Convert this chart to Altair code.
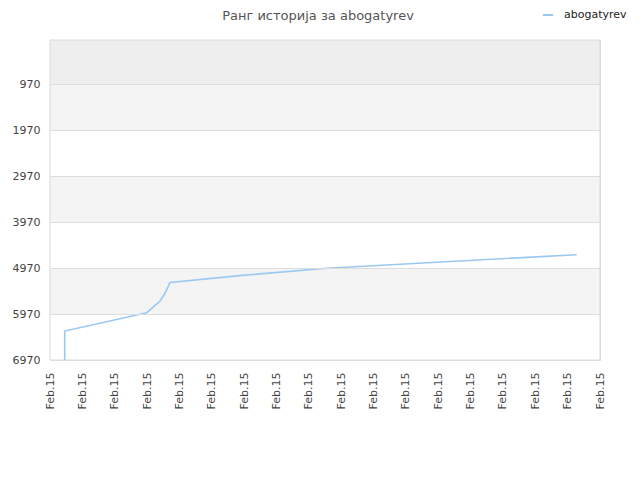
import altair as alt
import pandas as pd

series_name = "abogatyrev"
x_pos = [0.454, 0.454, 2.989, 3.143, 3.400, 3.555, 3.709, 5.94, 8.562, 16.280]
rank = [6970, 6340, 5942, 5846, 5687, 5520, 5285, 5130, 4974, 4681]

y_ticks = [970, 1970, 2970, 3970, 4970, 5970, 6970]
y_min = 13
band_lo = [13, 970, 1970, 2970, 3970, 4970, 5970]
band_hi = [970, 1970, 2970, 3970, 4970, 5970, 6970]
band_col = ["#eeeeee", "#f4f4f4", "#ffffff", "#f4f4f4", "#ffffff", "#f4f4f4", "#ffffff"]
x_ticks = list(range(18))
x_label = "Feb.15"

line_df = pd.DataFrame({"x": x_pos, "rank": rank, "series": [series_name] * len(x_pos)})
band_df = pd.DataFrame({"lo": band_lo, "hi": band_hi, "col": band_col})
frame_df = pd.DataFrame({"k": [0]})

yscale = alt.Scale(domain=[y_min, 6970], reverse=True, nice=False, zero=False)
xscale = alt.Scale(domain=[0, 17], nice=False, zero=False)

y_axis = alt.Axis(values=y_ticks, format="d", ticks=False, domain=False, grid=True, zindex=1,
                  gridColor="#dddddd", labelPadding=10, labelFontSize=11,
                  labelColor="#444444", labelFont="DejaVu Sans")

bands = alt.Chart(band_df).mark_rect().encode(
    x=alt.value(0), x2=alt.value(550),
    y=alt.Y("lo:Q", scale=yscale, title=None, axis=y_axis),
    y2="hi:Q",
    fill=alt.Fill("col:N", scale=None, legend=None),
)

frame = alt.Chart(frame_df).mark_rect(fillOpacity=0, stroke="#d9d9d9", strokeWidth=1).encode(
    x=alt.value(0), x2=alt.value(550), y=alt.value(0), y2=alt.value(320),
)

line = alt.Chart(line_df).mark_line(strokeWidth=1.6, interpolate="linear").encode(
    x=alt.X("x:Q", scale=xscale, title=None,
            axis=alt.Axis(values=x_ticks, labelExpr=f"'{x_label}'", labelAngle=270,
                          ticks=False, domain=False, grid=False, labelPadding=12,
                          labelFontSize=11, labelColor="#444444", labelFont="DejaVu Sans")),
    y=alt.Y("rank:Q", scale=yscale, title=None, axis=y_axis),
    color=alt.Color("series:N", scale=alt.Scale(domain=[series_name], range=["#99c8f2"]),
                    legend=alt.Legend(title=None, orient="none", legendX=492, legendY=-31,
                                      symbolType="stroke", symbolSize=100, symbolStrokeWidth=2,
                                      labelFontSize=11, labelFont="DejaVu Sans",
                                      labelColor="#222222", labelOffset=10)),
)

chart = alt.layer(bands, frame, line).resolve_scale(color="independent").properties(
    width=550, height=320,
    title=alt.TitleParams("Ранг историја за abogatyrev", fontSize=13, fontWeight="normal",
                          color="#555555", font="DejaVu Sans", anchor="middle", dx=-7, offset=-14),
    autosize=alt.AutoSizeParams(type="none"),
    padding={"left": 42, "top": 32, "right": 32, "bottom": 112},
).configure_view(stroke=None).configure(background="white")

chart.save("out.html", embed_options={"renderer": "svg", "actions": False})
